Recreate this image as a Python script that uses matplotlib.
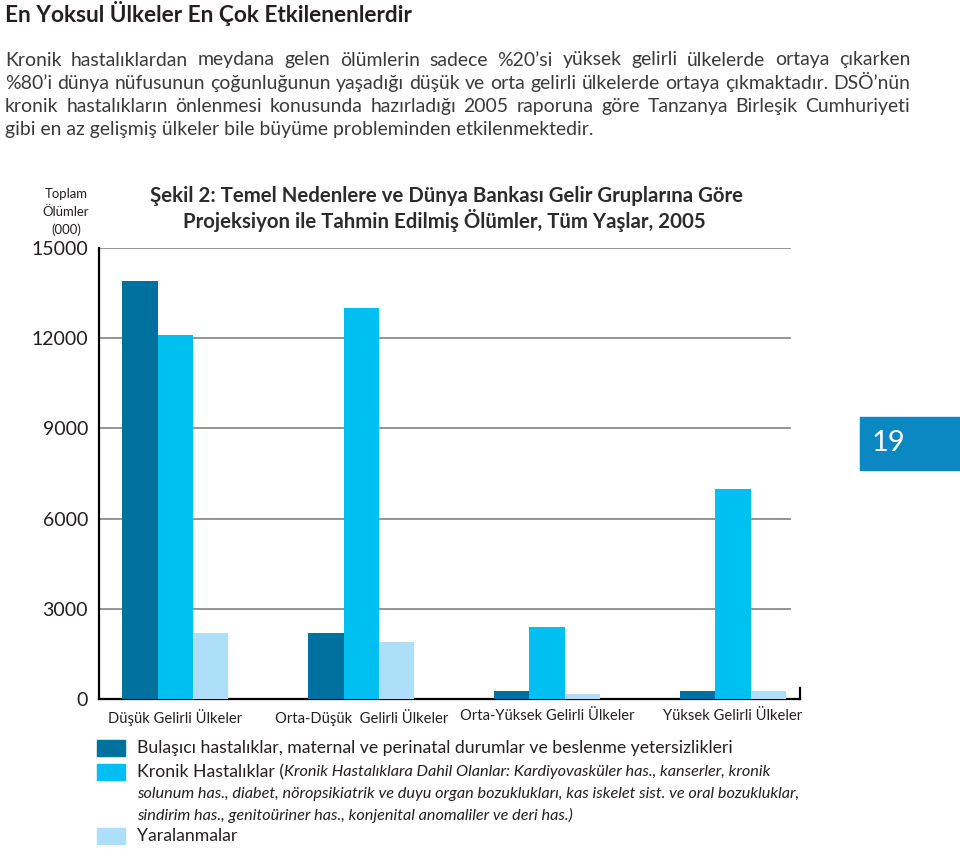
import matplotlib
matplotlib.use('Agg')
import matplotlib.pyplot as plt
from matplotlib.patches import Rectangle

W, H = 960, 849

# data (thousand deaths)
groups = ['Düşük Gelirli Ülkeler', 'Orta-Düşük  Gelirli Ülkeler',
          'Orta-Yüksek Gelirli Ülkeler', 'Yüksek Gelirli Ülkeler']
communicable = [13900, 2200, 280, 280]
chronic = [12100, 13000, 2400, 7000]
injuries = [2200, 1900, 150, 280]
yticks = [0, 3000, 6000, 9000, 12000, 15000]

c_dark = '#00719e'
c_mid = '#00bff1'
c_light = '#ade0f8'
box_blue = '#0b87c2'
txt = '#231f20'
body = '#3a3a3a'
FONT = 'Lato'


def fx(px):
    return px / W


def fy(py):
    return 1 - py / H


fig = plt.figure(figsize=(W / 100, H / 100), dpi=100)
renderer = fig.canvas.get_renderer()


def width(t):
    return t.get_window_extent(renderer).width


def fit(t, w):
    # scale font so the text spans the given pixel width
    t.set_fontsize(t.get_fontsize() * w / width(t))
    return t


# heading
t = fig.text(fx(5), fy(14), 'En Yoksul Ülkeler En Çok Etkilenenlerdir', family=FONT,
             fontweight='bold', fontsize=15, color=txt, va='center')
fit(t, 410)

# intro paragraph, justified to the same width as in the print
para = ['Kronik hastalıklardan meydana gelen ölümlerin sadece %20’si yüksek gelirli ülkelerde ortaya çıkarken',
        '%80’i dünya nüfusunun çoğunluğunun yaşadığı düşük ve orta gelirli ülkelerde ortaya çıkmaktadır. DSÖ’nün',
        'kronik hastalıkların önlenmesi konusunda hazırladığı 2005 raporuna göre Tanzanya Birleşik Cumhuriyeti',
        'gibi en az gelişmiş ülkeler bile büyüme probleminden etkilenmektedir.']
probe = fig.text(0, 0, para[1], family=FONT, fontsize=13)
fit(probe, 902)
fs_p = probe.get_fontsize()
probe.remove()
for i, line in enumerate(para):
    yy = fy(60 + 23.3 * i)
    if i == len(para) - 1:
        fig.text(fx(5), yy, line, family=FONT, fontsize=fs_p, color=body, va='center')
        continue
    words = line.split(' ')
    wt = [fig.text(0, yy, w, family=FONT, fontsize=fs_p, color=body, va='center') for w in words]
    ws = [width(w) for w in wt]
    gap = (905 - sum(ws)) / (len(ws) - 1)
    xpos = 5
    for w, wd in zip(wt, ws):
        w.set_x(fx(xpos))
        xpos += wd + gap

# chart
ax = fig.add_axes([fx(99), fy(699), fx(800 - 99), (699 - 248) / H])
x = list(range(len(groups)))
bw = 0.19
ax.bar([i - bw for i in x], communicable, bw, color=c_dark, zorder=3)
ax.bar(x, chronic, bw, color=c_mid, zorder=3)
ax.bar([i + bw for i in x], injuries, bw, color=c_light, zorder=3)

ax.set_xlim(-0.41, 3.36)
ax.set_ylim(0, 15000)
for v in yticks[1:]:
    ax.axhline(v, xmin=0, xmax=(790 - 99) / (800 - 99), color='#8c8c8c', lw=1.3, zorder=1)

ax.set_yticks(yticks)
ax.set_yticklabels([str(v) for v in yticks], family=FONT, fontsize=14, color=txt)
ax.tick_params(axis='y', length=0, pad=8)
ax.set_xticks(x)
xl = ax.set_xticklabels(groups, family=FONT, fontsize=12.5, color=txt)
ax.tick_params(axis='x', length=0, pad=7)
fit(xl[0], 134)
for lab in xl[1:]:
    lab.set_fontsize(xl[0].get_fontsize())
for s in ['top', 'right']:
    ax.spines[s].set_visible(False)
for s in ['left', 'bottom']:
    ax.spines[s].set_linewidth(1.6)
    ax.spines[s].set_color('black')
ax.plot([1, 1], [0, 0.024], transform=ax.transAxes, color='black', lw=1.6, clip_on=False)

# axis caption and chart title
cap = [fig.text(fx(66), fy(194 + 18 * i), s, family=FONT, fontsize=10, color=txt,
                ha='center', va='center') for i, s in enumerate(['Toplam', 'Ölümler', '(000)'])]
fit(cap[0], 43)
for c in cap[1:]:
    c.set_fontsize(cap[0].get_fontsize())
ti1 = fig.text(fx(446), fy(196), 'Şekil 2: Temel Nedenlere ve Dünya Bankası Gelir Gruplarına Göre',
               family=FONT, fontsize=13.5, fontweight='bold', color='#2b2b2b', ha='center', va='center')
fit(ti1, 592)
fig.text(fx(444), fy(220), 'Projeksiyon ile Tahmin Edilmiş Ölümler, Tüm Yaşlar, 2005',
         family=FONT, fontsize=ti1.get_fontsize(), fontweight='bold', color='#2b2b2b',
         ha='center', va='center')

# legend
for yy, col in [(748, c_dark), (772, c_mid), (836, c_light)]:
    fig.patches.append(Rectangle((fx(97), fy(yy + 8)), fx(28), 16 / H, color=col,
                                 transform=fig.transFigure, figure=fig))
l1 = fig.text(fx(137), fy(748), 'Bulaşıcı hastalıklar, maternal ve perinatal durumlar ve beslenme yetersizlikleri',
              family=FONT, fontsize=12, color=txt, va='center')
fit(l1, 593)
fs_l = l1.get_fontsize()
t1 = fig.text(fx(137), fy(772), 'Kronik Hastalıklar (', family=FONT, fontsize=fs_l, color=txt, va='center')
i2 = fig.text(fx(137), fy(794), 'solunum has., diabet, nöropsikiatrik ve duyu organ bozuklukları, kas iskelet sist. ve oral bozukluklar,',
              family=FONT, fontsize=10.5, style='italic', color=txt, va='center')
fit(i2, 663)
fs_i = i2.get_fontsize()
bb = t1.get_window_extent(renderer)
fig.text(bb.x1 / W, fy(772), 'Kronik Hastalıklara Dahil Olanlar: Kardiyovasküler has., kanserler, kronik',
         family=FONT, fontsize=fs_i, style='italic', color=txt, va='center')
fig.text(fx(137), fy(815), 'sindirim has., genitoüriner has., konjenital anomaliler ve deri has.)',
         family=FONT, fontsize=fs_i, style='italic', color=txt, va='center')
fig.text(fx(137), fy(836), 'Yaralanmalar', family=FONT, fontsize=fs_l, color=txt, va='center')

# page number tab
fig.patches.append(Rectangle((fx(860), fy(470)), fx(100), 53 / H, color=box_blue,
                             transform=fig.transFigure, figure=fig))
fig.text(fx(889), fy(443), '19', family=FONT, fontsize=21, color='white',
         ha='center', va='center')

fig.savefig('out.png', dpi=100)
